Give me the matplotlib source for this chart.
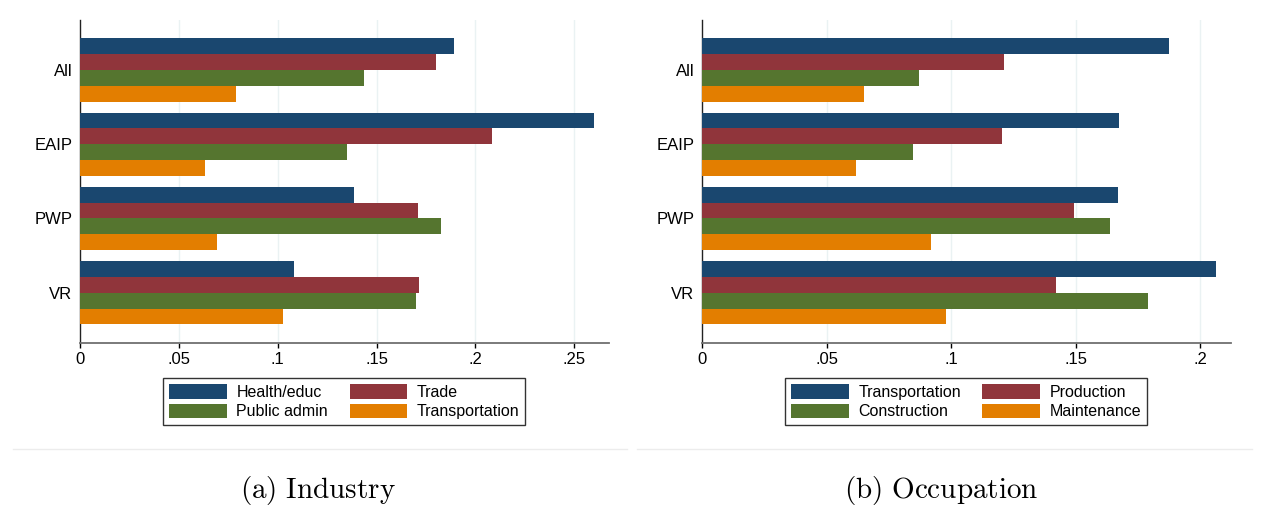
import matplotlib
matplotlib.use("Agg")
import matplotlib.pyplot as plt
import numpy as np
from matplotlib.lines import Line2D

plt.rcParams["font.family"] = ["Liberation Sans", "DejaVu Sans"]
plt.rcParams["mathtext.fontset"] = "cm"

# Groups shown on the vertical axis
groups = ["All", "EAIP", "PWP", "VR"]

# Panel (a): industry shares
industry_labels = ["Health/educ", "Trade", "Public admin", "Transportation"]
health_educ = [0.1894, 0.2598, 0.1386, 0.1082]
trade = [0.1800, 0.2082, 0.1708, 0.1714]
public_admin = [0.1436, 0.1350, 0.1824, 0.1698]
transportation_ind = [0.0788, 0.0632, 0.0692, 0.1026]

# Panel (b): occupation shares
occupation_labels = ["Transportation", "Production", "Construction", "Maintenance"]
transportation_occ = [0.1875, 0.1674, 0.1670, 0.2064]
production = [0.1211, 0.1203, 0.1493, 0.1421]
construction = [0.0870, 0.0846, 0.1638, 0.1790]
maintenance = [0.0649, 0.0618, 0.0918, 0.0979]

industry_ticks = [0, 0.05, 0.10, 0.15, 0.20, 0.25]
industry_ticklabels = ["0", ".05", ".1", ".15", ".2", ".25"]
occupation_ticks = [0, 0.05, 0.10, 0.15, 0.20]
occupation_ticklabels = ["0", ".05", ".1", ".15", ".2"]

colors = ["#1a476f", "#90353b", "#55752f", "#e37e00"]
grid_color = "#eaf2f3"

W, H = 1270, 508
fig = plt.figure(figsize=(W / 100, H / 100), dpi=100)


def px_axes(x0, x1, ytop, ybot):
    return fig.add_axes([x0 / W, 1 - ybot / H, (x1 - x0) / W, (ybot - ytop) / H])


def draw_panel(ax, series, labels, ticks, ticklabels, xmax, legend_anchor, colspacing):
    bar_h = 0.2133
    ypos = np.arange(len(groups))
    handles = []
    for i, (vals, lab) in enumerate(zip(series, labels)):
        offs = (i - 1.5) * bar_h
        b = ax.barh(ypos + offs, vals, height=bar_h, color=colors[i],
                    edgecolor="none", label=lab, zorder=3)
        handles.append(b)
    ax.set_ylim(3.672, -0.672)
    ax.set_xlim(0, xmax)
    ax.set_yticks(ypos)
    ax.set_yticklabels(groups, fontsize=12)
    ax.tick_params(axis="y", length=0, pad=5.5)
    ax.set_xticks(ticks)
    ax.set_xticklabels(ticklabels, fontsize=12)
    ax.tick_params(axis="x", length=3.5, width=1, direction="out", pad=3,
                   color="black")
    for t in ticks[1:]:
        ax.axvline(t, color=grid_color, lw=1.0, zorder=1)
    for s in ("top", "right"):
        ax.spines[s].set_visible(False)
    ax.spines["left"].set_color("#222222")
    ax.spines["left"].set_linewidth(1.0)
    ax.spines["bottom"].set_color("#707070")
    ax.spines["bottom"].set_linewidth(1.3)
    # legend is filled row by row: reorder for matplotlib's column-major layout
    order = [0, 2, 1, 3]
    leg = fig.legend(handles=[handles[k] for k in order],
                     labels=[labels[k] for k in order], ncol=2,
                     loc="upper left",
                     bbox_to_anchor=(legend_anchor[0] / W, 1 - legend_anchor[1] / H),
                     fontsize=11.5, frameon=True, fancybox=False, shadow=False,
                     handlelength=3.6, handleheight=1.0, handletextpad=0.6,
                     columnspacing=colspacing, labelspacing=0.22,
                     borderpad=0.38, borderaxespad=0)
    leg.get_frame().set_edgecolor("black")
    leg.get_frame().set_linewidth(1.0)
    return leg


ax_a = px_axes(80, 609, 20, 342.7)
draw_panel(ax_a, [health_educ, trade, public_admin, transportation_ind],
           industry_labels, industry_ticks, industry_ticklabels, 0.2676,
           (163.3, 378.3), 1.35)

ax_b = px_axes(702, 1231, 20, 342.7)
draw_panel(ax_b, [transportation_occ, production, construction, maintenance],
           occupation_labels, occupation_ticks, occupation_ticklabels, 0.2123,
           (785, 378.3), 1.35)

# Light separators above the sub-captions
for xa, xb in ((13, 627), (637, 1252)):
    fig.add_artist(Line2D([xa / W, xb / W], [1 - 449.3 / H, 1 - 449.3 / H],
                          color="#ececec", lw=1.0, transform=fig.transFigure))

fig.text(318 / W, 1 - 497.7 / H, r"$\mathrm{(a)\ Industry}$", fontsize=21,
         ha="center", va="baseline")
fig.text(940.8 / W, 1 - 497.7 / H, r"$\mathrm{(b)\ Occupation}$", fontsize=21,
         ha="center", va="baseline")

fig.savefig("out.png", dpi=100, facecolor="white")
